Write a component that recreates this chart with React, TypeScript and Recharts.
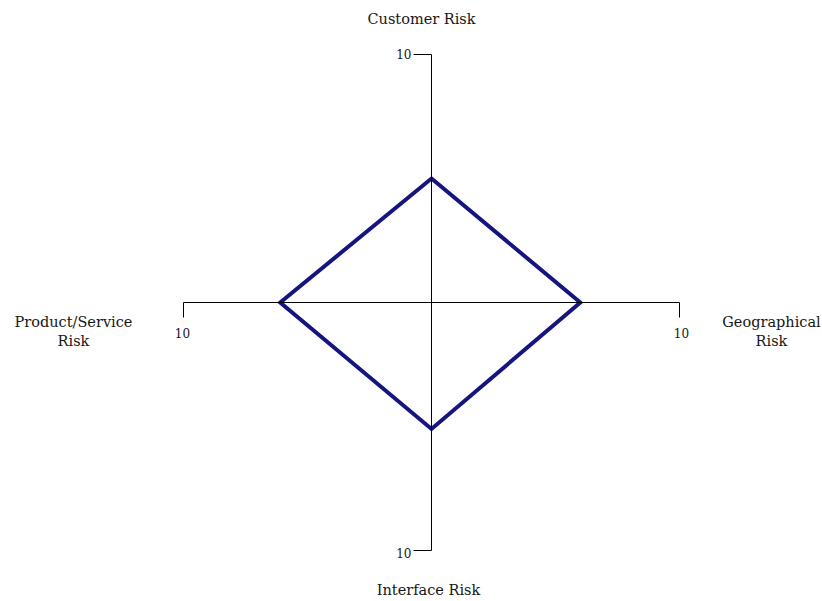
import { RadarChart, Radar, PolarAngleAxis, PolarRadiusAxis } from "recharts";

const categories = ["Customer Risk", "Geographical Risk", "Interface Risk", "Product/Service Risk"];
const riskScores = [5, 6, 5.1, 6.1];
const maxScore = 10;
const radiusTicks = [0, 5, 10];

const data = categories.map((category, i) => ({ category, score: riskScores[i] }));

const FONT = "'DejaVu Serif', serif";
const TEXT = "#161616";

// label placement relative to the point recharts gives the angle tick
const labelLayout: Record<string, { dx: number; dy: number; lines: string[] }> = {
  "Customer Risk": { dx: -10, dy: -23, lines: ["Customer Risk"] },
  "Geographical Risk": { dx: 84, dy: 24, lines: ["Geographical", "Risk"] },
  "Interface Risk": { dx: -3, dy: 36, lines: ["Interface Risk"] },
  "Product/Service Risk": { dx: -102, dy: 24, lines: ["Product/Service", "Risk"] },
};

function AngleTick(props: any) {
  const { x, y, payload } = props;
  const l = labelLayout[payload.value];
  if (!l) return null;
  return (
    <text x={x + l.dx} y={y + l.dy} textAnchor="middle" fontFamily={FONT} fontSize={14.5} fill={TEXT}>
      {l.lines.map((t, i) => (
        <tspan key={t} x={x + l.dx} dy={i === 0 ? 0 : 19}>
          {t}
        </tspan>
      ))}
    </text>
  );
}

// "10" marker with its little end tick, drawn differently per axis direction
function makeRadiusTick(side: "top" | "right" | "bottom" | "left") {
  return (props: any) => {
    const { x, y, payload } = props;
    if (payload.value !== maxScore) return <g />;
    const vertical = side === "top" || side === "bottom";
    return (
      <g>
        {vertical ? (
          <line x1={x - 18} y1={y} x2={x} y2={y} stroke="#000" strokeWidth={1} />
        ) : (
          <line x1={x} y1={y} x2={x} y2={y + 15} stroke="#000" strokeWidth={1} />
        )}
        <text
          x={vertical ? x - 20 : x + (side === "right" ? 2 : -1)}
          y={vertical ? y + (side === "top" ? 4 : 7) : y + 35}
          textAnchor={vertical ? "end" : "middle"}
          fontFamily={FONT}
          fontSize={12}
          fill={TEXT}
        >
          {payload.value}
        </text>
      </g>
    );
  };
}

const radiusAxes = [
  { id: 0, angle: 90, side: "top" as const },
  { id: "r", angle: 0, side: "right" as const },
  { id: "b", angle: -90, side: "bottom" as const },
  { id: "l", angle: 180, side: "left" as const },
];

export default function App() {
  return (
    <div style={{ position: "absolute", left: 0, top: 0, width: 822, height: 601, background: "#fff" }}>
      <RadarChart width={822} height={601} data={data} cx={431.5} cy={302.5} outerRadius={248} margin={{ top: 0, right: 0, bottom: 0, left: 0 }}>
        <PolarAngleAxis dataKey="category" axisLine={false} tickLine={false} tick={<AngleTick />} />
        <Radar
          dataKey="score"
          radiusAxisId={0}
          stroke="#15157f"
          strokeWidth={4}
          strokeLinejoin="miter"
          fill="none"
          fillOpacity={0}
          dot={false}
          isAnimationActive={false}
        />
        {radiusAxes.map((a) => (
          <PolarRadiusAxis
            key={String(a.id)}
            radiusAxisId={a.id}
            angle={a.angle}
            domain={[0, maxScore]}
            allowDataOverflow
            ticks={radiusTicks as any}
            tickCount={3}
            type="number"
            axisLine={{ stroke: "#000", strokeWidth: 1 }}
            tickLine={false}
            tick={makeRadiusTick(a.side)}
          />
        ))}
      </RadarChart>
    </div>
  );
}
